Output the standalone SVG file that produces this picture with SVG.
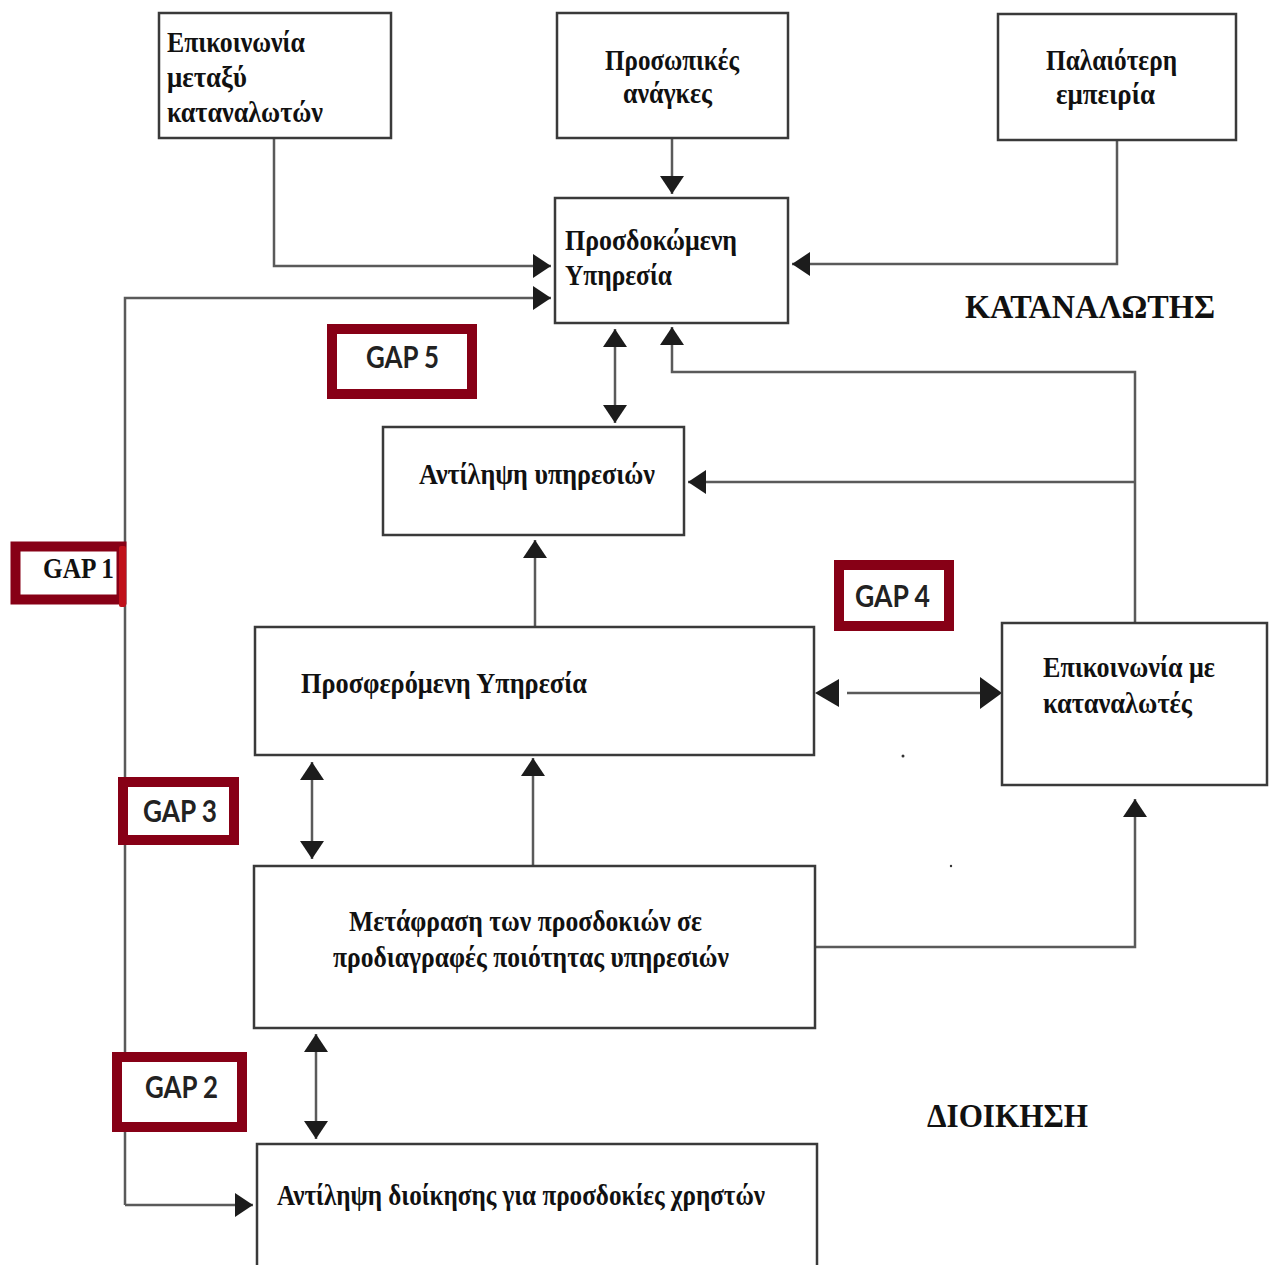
<svg xmlns="http://www.w3.org/2000/svg" width="1269" height="1265" viewBox="0 0 1269 1265">
<style>
.box{fill:#fff;stroke:#3a3a3a;stroke-width:2.5}
.t{font-family:"Liberation Serif","Times New Roman",serif;font-weight:bold;font-size:29px;fill:#111}
.h{font-family:"Liberation Serif","Times New Roman",serif;font-weight:bold;font-size:34px;fill:#111}
.c{fill:none;stroke:#5a5a5a;stroke-width:2.5}
.gap{fill:#fff;stroke:#870016;stroke-width:10}
.g{font-family:Lato,"Open Sans",sans-serif;font-weight:bold;font-size:30px;fill:#222}
.ah{fill:#1c1c1c}
</style>
<defs>
<marker id="arr" viewBox="0 0 18 24" refX="18" refY="12" markerWidth="18" markerHeight="24" markerUnits="userSpaceOnUse" orient="auto-start-reverse">
<path d="M0,0 L18,12 L0,24 z" fill="#1c1c1c"/>
</marker>
</defs>

<g id="connectors">
<path class="c" d="M274,138 V266 H551" marker-end="url(#arr)"/>
<path class="c" d="M125,1205 V298 H551" marker-end="url(#arr)"/>
<path class="c" d="M125,1205 H253" marker-end="url(#arr)"/>
<path class="c" d="M672,138 V194" marker-end="url(#arr)"/>
<path class="c" d="M1117,140 V264 H792" marker-end="url(#arr)"/>
<path class="c" d="M615,329 V423" marker-start="url(#arr)" marker-end="url(#arr)"/>
<path class="c" d="M1135,623 V372 H672 V327" marker-end="url(#arr)"/>
<path class="c" d="M1135,482 H688" marker-end="url(#arr)"/>
<path class="c" d="M535,627 V540" marker-end="url(#arr)"/>
<path class="c" d="M847,693 H982"/>
<polygon class="ah" points="815,693 839,679 839,707"/>
<polygon class="ah" points="1002,693 980,677 980,709"/>
<path class="c" d="M312,762 V859" marker-start="url(#arr)" marker-end="url(#arr)"/>
<path class="c" d="M533,866 V758" marker-end="url(#arr)"/>
<path class="c" d="M815,947 H1135 V799" marker-end="url(#arr)"/>
<path class="c" d="M316,1034 V1139" marker-start="url(#arr)" marker-end="url(#arr)"/>
<circle cx="903" cy="756" r="1.5" fill="#333"/>
<circle cx="951" cy="866" r="1.2" fill="#333"/>
</g>

<g id="n-epik-metaxy">
<rect class="box" x="159" y="13" width="232" height="125"/>
<text class="t" x="167" y="52" textLength="138" lengthAdjust="spacingAndGlyphs">Επικοινωνία</text>
<text class="t" x="167" y="87" textLength="80" lengthAdjust="spacingAndGlyphs">μεταξύ</text>
<text class="t" x="167" y="122" textLength="156" lengthAdjust="spacingAndGlyphs">καταναλωτών</text>
</g>

<g id="n-prosopikes">
<rect class="box" x="557" y="13" width="231" height="125"/>
<text class="t" x="605" y="70" textLength="134" lengthAdjust="spacingAndGlyphs">Προσωπικές</text>
<text class="t" x="623" y="103" textLength="89" lengthAdjust="spacingAndGlyphs">ανάγκες</text>
</g>

<g id="n-palaioteri">
<rect class="box" x="998" y="14" width="238" height="126"/>
<text class="t" x="1046" y="70" textLength="131" lengthAdjust="spacingAndGlyphs">Παλαιότερη</text>
<text class="t" x="1056" y="104" textLength="99" lengthAdjust="spacingAndGlyphs">εμπειρία</text>
</g>

<g id="n-prosdokomeni">
<rect class="box" x="555" y="198" width="233" height="125"/>
<text class="t" x="565" y="250" textLength="172" lengthAdjust="spacingAndGlyphs">Προσδοκώμενη</text>
<text class="t" x="565" y="285" textLength="107" lengthAdjust="spacingAndGlyphs">Υπηρεσία</text>
</g>

<g id="n-antilipsi-yp">
<rect class="box" x="383" y="427" width="301" height="108"/>
<text class="t" x="419" y="484" textLength="236" lengthAdjust="spacingAndGlyphs">Αντίληψη υπηρεσιών</text>
</g>

<g id="n-prosferomeni">
<rect class="box" x="255" y="627" width="559" height="128"/>
<text class="t" x="301" y="693" textLength="286" lengthAdjust="spacingAndGlyphs">Προσφερόμενη Υπηρεσία</text>
</g>

<g id="n-epik-me">
<rect class="box" x="1002" y="623" width="265" height="162"/>
<text class="t" x="1043" y="677" textLength="172" lengthAdjust="spacingAndGlyphs">Επικοινωνία με</text>
<text class="t" x="1043" y="713" textLength="149" lengthAdjust="spacingAndGlyphs">καταναλωτές</text>
</g>

<g id="n-metafrasi">
<rect class="box" x="254" y="866" width="561" height="162"/>
<text class="t" x="349" y="931" textLength="353" lengthAdjust="spacingAndGlyphs">Μετάφραση των προσδοκιών σε</text>
<text class="t" x="333" y="967" textLength="396" lengthAdjust="spacingAndGlyphs">προδιαγραφές ποιότητας υπηρεσιών</text>
</g>

<g id="n-antilipsi-dioik">
<rect class="box" x="257" y="1144" width="560" height="140"/>
<text class="t" x="277" y="1205" textLength="488" lengthAdjust="spacingAndGlyphs">Αντίληψη διοίκησης για προσδοκίες χρηστών</text>
</g>

<g id="l-katanalotis">
<text class="h" x="965" y="318" textLength="250" lengthAdjust="spacingAndGlyphs">ΚΑΤΑΝΑΛΩΤΗΣ</text>
</g>
<g id="l-dioikisi">
<text class="h" x="927" y="1127" textLength="161" lengthAdjust="spacingAndGlyphs">ΔΙΟΙΚΗΣΗ</text>
</g>

<g id="gap5">
<rect class="gap" x="332" y="329" width="140" height="65"/>
<text class="g" x="366" y="368" textLength="73" lengthAdjust="spacingAndGlyphs">GAP 5</text>
</g>
<g id="gap1">
<rect class="gap" x="15.5" y="546.5" width="106" height="53" stroke-width="11"/>
<rect x="119" y="546" width="7" height="61" rx="2" fill="#c0101a"/>
<text class="t" x="43" y="578" font-size="30" fill="#222" textLength="71" lengthAdjust="spacingAndGlyphs">GAP 1</text>
</g>
<g id="gap4">
<rect class="gap" x="839" y="565" width="110" height="61"/>
<text class="g" x="855" y="607" textLength="75" lengthAdjust="spacingAndGlyphs">GAP 4</text>
</g>
<g id="gap3">
<rect class="gap" x="123" y="782" width="111" height="58"/>
<text class="g" x="143" y="822" textLength="74" lengthAdjust="spacingAndGlyphs">GAP 3</text>
</g>
<g id="gap2">
<rect class="gap" x="117" y="1057" width="125" height="70"/>
<text class="g" x="145" y="1098" textLength="73" lengthAdjust="spacingAndGlyphs">GAP 2</text>
</g>
</svg>
